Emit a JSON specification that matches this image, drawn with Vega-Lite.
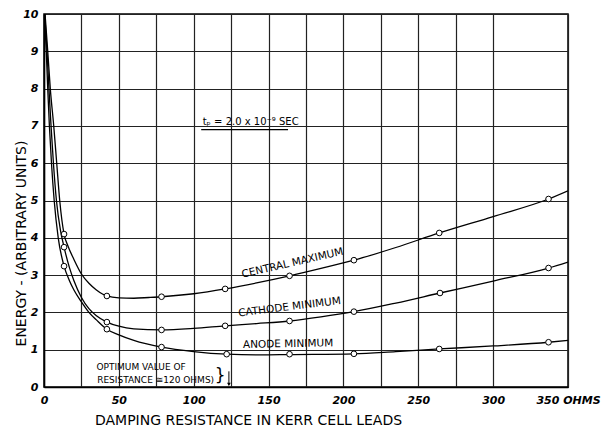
{
  "$schema": "https://vega.github.io/schema/vega-lite/v6.json",
  "width": 524,
  "height": 373,
  "autosize": "none",
  "padding": {"left": 44, "top": 14, "right": 33, "bottom": 41},
  "background": "white",
  "config": {
    "view": {"stroke": "black", "strokeWidth": 1.5},
    "font": "DejaVu Sans",
    "axis": {"labelOverlap": false, "labelBound": false}
  },
  "datasets": {
    "curves": [
      {"curve": "central", "r": 0.7, "e": 10}, {"curve": "central", "r": 2.5, "e": 9}, {"curve": "central", "r": 4.2, "e": 8},
      {"curve": "central", "r": 6.5, "e": 7}, {"curve": "central", "r": 8.5, "e": 6}, {"curve": "central", "r": 10.5, "e": 5},
      {"curve": "central", "r": 13.4, "e": 4.1}, {"curve": "central", "r": 16, "e": 3.78}, {"curve": "central", "r": 20, "e": 3.42},
      {"curve": "central", "r": 25, "e": 3.03}, {"curve": "central", "r": 30, "e": 2.78}, {"curve": "central", "r": 35, "e": 2.6},
      {"curve": "central", "r": 42, "e": 2.44}, {"curve": "central", "r": 50, "e": 2.39}, {"curve": "central", "r": 60, "e": 2.38},
      {"curve": "central", "r": 70, "e": 2.4}, {"curve": "central", "r": 78.5, "e": 2.42}, {"curve": "central", "r": 100, "e": 2.5},
      {"curve": "central", "r": 121, "e": 2.63}, {"curve": "central", "r": 142, "e": 2.79}, {"curve": "central", "r": 164, "e": 2.98},
      {"curve": "central", "r": 185, "e": 3.18}, {"curve": "central", "r": 207, "e": 3.4}, {"curve": "central", "r": 235, "e": 3.74},
      {"curve": "central", "r": 264, "e": 4.13}, {"curve": "central", "r": 300, "e": 4.57}, {"curve": "central", "r": 337, "e": 5.04},
      {"curve": "central", "r": 350, "e": 5.26},
      {"curve": "cathode", "r": 0.5, "e": 10}, {"curve": "cathode", "r": 2, "e": 9}, {"curve": "cathode", "r": 3.3, "e": 8},
      {"curve": "cathode", "r": 4.7, "e": 7}, {"curve": "cathode", "r": 6.3, "e": 6}, {"curve": "cathode", "r": 8.3, "e": 5},
      {"curve": "cathode", "r": 11, "e": 4.2}, {"curve": "cathode", "r": 13.4, "e": 3.75}, {"curve": "cathode", "r": 17, "e": 3.2},
      {"curve": "cathode", "r": 20, "e": 2.85}, {"curve": "cathode", "r": 25, "e": 2.4}, {"curve": "cathode", "r": 30, "e": 2.1},
      {"curve": "cathode", "r": 35, "e": 1.91}, {"curve": "cathode", "r": 42, "e": 1.74}, {"curve": "cathode", "r": 50, "e": 1.63},
      {"curve": "cathode", "r": 60, "e": 1.56}, {"curve": "cathode", "r": 78.5, "e": 1.53}, {"curve": "cathode", "r": 100, "e": 1.57},
      {"curve": "cathode", "r": 121, "e": 1.64}, {"curve": "cathode", "r": 142, "e": 1.7}, {"curve": "cathode", "r": 164, "e": 1.77},
      {"curve": "cathode", "r": 185, "e": 1.88}, {"curve": "cathode", "r": 207, "e": 2.02}, {"curve": "cathode", "r": 235, "e": 2.25},
      {"curve": "cathode", "r": 264.5, "e": 2.52}, {"curve": "cathode", "r": 300, "e": 2.84}, {"curve": "cathode", "r": 337, "e": 3.19},
      {"curve": "cathode", "r": 350, "e": 3.35},
      {"curve": "anode", "r": 0.3, "e": 10}, {"curve": "anode", "r": 1.5, "e": 9}, {"curve": "anode", "r": 2.5, "e": 8},
      {"curve": "anode", "r": 3.6, "e": 7}, {"curve": "anode", "r": 5, "e": 6}, {"curve": "anode", "r": 6.8, "e": 5},
      {"curve": "anode", "r": 9.5, "e": 4}, {"curve": "anode", "r": 13.4, "e": 3.24}, {"curve": "anode", "r": 17, "e": 2.85},
      {"curve": "anode", "r": 20, "e": 2.6}, {"curve": "anode", "r": 25, "e": 2.28}, {"curve": "anode", "r": 30, "e": 2.0},
      {"curve": "anode", "r": 35, "e": 1.8}, {"curve": "anode", "r": 42, "e": 1.55}, {"curve": "anode", "r": 50, "e": 1.4},
      {"curve": "anode", "r": 60, "e": 1.25}, {"curve": "anode", "r": 78.5, "e": 1.07}, {"curve": "anode", "r": 100, "e": 0.95},
      {"curve": "anode", "r": 122, "e": 0.88}, {"curve": "anode", "r": 145, "e": 0.86}, {"curve": "anode", "r": 164, "e": 0.87},
      {"curve": "anode", "r": 207, "e": 0.89}, {"curve": "anode", "r": 235, "e": 0.95}, {"curve": "anode", "r": 264, "e": 1.02},
      {"curve": "anode", "r": 300, "e": 1.1}, {"curve": "anode", "r": 337, "e": 1.2}, {"curve": "anode", "r": 350, "e": 1.25}
    ],
    "points": [
      {"curve": "central", "r": 13.4, "e": 4.1}, {"curve": "central", "r": 42, "e": 2.44}, {"curve": "central", "r": 78.5, "e": 2.42},
      {"curve": "central", "r": 121, "e": 2.63}, {"curve": "central", "r": 164, "e": 2.98}, {"curve": "central", "r": 207, "e": 3.4},
      {"curve": "central", "r": 264, "e": 4.13}, {"curve": "central", "r": 337, "e": 5.04},
      {"curve": "cathode", "r": 13.4, "e": 3.75}, {"curve": "cathode", "r": 42, "e": 1.74}, {"curve": "cathode", "r": 78.5, "e": 1.53},
      {"curve": "cathode", "r": 121, "e": 1.64}, {"curve": "cathode", "r": 164, "e": 1.77}, {"curve": "cathode", "r": 207, "e": 2.02},
      {"curve": "cathode", "r": 264.5, "e": 2.52}, {"curve": "cathode", "r": 337, "e": 3.19},
      {"curve": "anode", "r": 13.4, "e": 3.24}, {"curve": "anode", "r": 42, "e": 1.55}, {"curve": "anode", "r": 78.5, "e": 1.07},
      {"curve": "anode", "r": 122, "e": 0.88}, {"curve": "anode", "r": 164, "e": 0.88}, {"curve": "anode", "r": 207, "e": 0.89},
      {"curve": "anode", "r": 264, "e": 1.02}, {"curve": "anode", "r": 337, "e": 1.2}
    ]
  },
  "encoding": {
    "x": {
      "field": "r", "type": "quantitative",
      "scale": {"domain": [0, 350], "nice": false, "zero": true},
      "axis": {
        "values": [0, 25, 50, 75, 100, 125, 150, 175, 200, 225, 250, 275, 300, 350],
        "labelExpr": "datum.value == 350 ? '350 OHMS' : (datum.value % 50 == 0 ? datum.label : '')",
        "grid": true, "gridColor": "#222", "gridWidth": 1.2, "gridOpacity": 1,
        "ticks": false, "domain": true, "domainColor": "black", "domainWidth": 1.5,
        "labelFont": "DejaVu Sans", "labelFontSize": 11, "labelFontStyle": "italic", "labelFontWeight": "bold",
        "labelColor": "black", "labelPadding": 7, "labelFlush": false, "labelOverlap": false,
        "title": "DAMPING RESISTANCE IN KERR CELL LEADS",
        "titleFont": "DejaVu Sans", "titleFontSize": 14, "titleFontWeight": "normal", "titleColor": "black",
        "titleX": 204, "titleY": 33, "titleBaseline": "middle", "titleAnchor": "middle", "titleAlign": "center"
      }
    },
    "y": {
      "field": "e", "type": "quantitative",
      "scale": {"domain": [0, 10], "nice": false},
      "axis": {
        "values": [0, 1, 2, 3, 4, 5, 6, 7, 8, 9, 10],
        "grid": true, "gridColor": "#222", "gridWidth": 1.2, "gridOpacity": 1,
        "ticks": false, "domain": true, "domainColor": "black", "domainWidth": 1.5,
        "labelFont": "DejaVu Sans", "labelFontSize": 11, "labelFontStyle": "italic", "labelFontWeight": "bold",
        "labelColor": "black", "labelPadding": 6, "labelFlush": false, "labelOverlap": false,
        "title": "ENERGY - (ARBITRARY UNITS)",
        "titleFont": "DejaVu Sans", "titleFontSize": 14, "titleFontWeight": "normal", "titleColor": "black",
        "titleX": -23, "titleY": 229, "titleAngle": -90, "titleBaseline": "middle", "titleAlign": "center"
      }
    }
  },
  "layer": [
    {
      "data": {"name": "curves"},
      "mark": {"type": "line", "interpolate": "monotone", "color": "black", "strokeWidth": 1.3, "clip": true},
      "encoding": {"detail": {"field": "curve"}}
    },
    {
      "data": {"name": "points"},
      "mark": {"type": "point", "shape": "circle", "filled": true, "fill": "white", "stroke": "black", "strokeWidth": 1, "size": 32, "opacity": 1},
      "encoding": {}
    },
    {
      "data": {"values": [{"r": 166, "e": 3.32, "label": "CENTRAL MAXIMUM"}]},
      "mark": {"type": "text", "angle": -13, "font": "DejaVu Sans", "fontSize": 10.5, "color": "black", "align": "center", "baseline": "middle"},
      "encoding": {"text": {"field": "label"}}
    },
    {
      "data": {"values": [{"r": 164, "e": 2.14, "label": "CATHODE MINIMUM"}]},
      "mark": {"type": "text", "angle": -7, "font": "DejaVu Sans", "fontSize": 10.5, "color": "black", "align": "center", "baseline": "middle"},
      "encoding": {"text": {"field": "label"}}
    },
    {
      "data": {"values": [{"r": 163, "e": 1.15, "label": "ANODE MINIMUM"}]},
      "mark": {"type": "text", "angle": -1, "font": "DejaVu Sans", "fontSize": 10.5, "color": "black", "align": "center", "baseline": "middle"},
      "encoding": {"text": {"field": "label"}}
    },
    {
      "data": {"values": [
        {"r": 106, "e": 7.02, "label": "tₚ = 2.0 x 10⁻⁹ SEC"}
      ]},
      "mark": {"type": "text", "font": "DejaVu Sans", "fontSize": 10, "color": "black", "align": "left", "baseline": "alphabetic"},
      "encoding": {"text": {"field": "label"}}
    },
    {
      "data": {"values": [
        {"r": 35, "e": 0.46, "label": "OPTIMUM VALUE OF"},
        {"r": 35.5, "e": 0.12, "label": "RESISTANCE ≅120 OHMS)"}
      ]},
      "mark": {"type": "text", "font": "DejaVu Sans", "fontSize": 9, "color": "black", "align": "left", "baseline": "alphabetic"},
      "encoding": {"text": {"field": "label"}}
    },
    {
      "data": {"values": [{"r": 114, "e": 0.3, "label": "}"}]},
      "mark": {"type": "text", "font": "DejaVu Sans", "fontSize": 17, "color": "black", "align": "left", "baseline": "middle"},
      "encoding": {"text": {"field": "label"}}
    },
    {
      "data": {"values": [{"r": 105, "r2": 163, "e": 6.9}]},
      "mark": {"type": "rule", "color": "black", "strokeWidth": 1.1},
      "encoding": {"x2": {"field": "r2"}}
    },
    {
      "data": {"values": [{"r": 123.5, "e": 0.42, "e2": 0.05}]},
      "mark": {"type": "rule", "color": "black", "strokeWidth": 1},
      "encoding": {"y2": {"field": "e2"}}
    },
    {
      "data": {"values": [{"r": 123.5, "e": 0.07}]},
      "mark": {"type": "point", "shape": "triangle-down", "filled": true, "color": "black", "size": 14, "opacity": 1},
      "encoding": {}
    }
  ]
}
